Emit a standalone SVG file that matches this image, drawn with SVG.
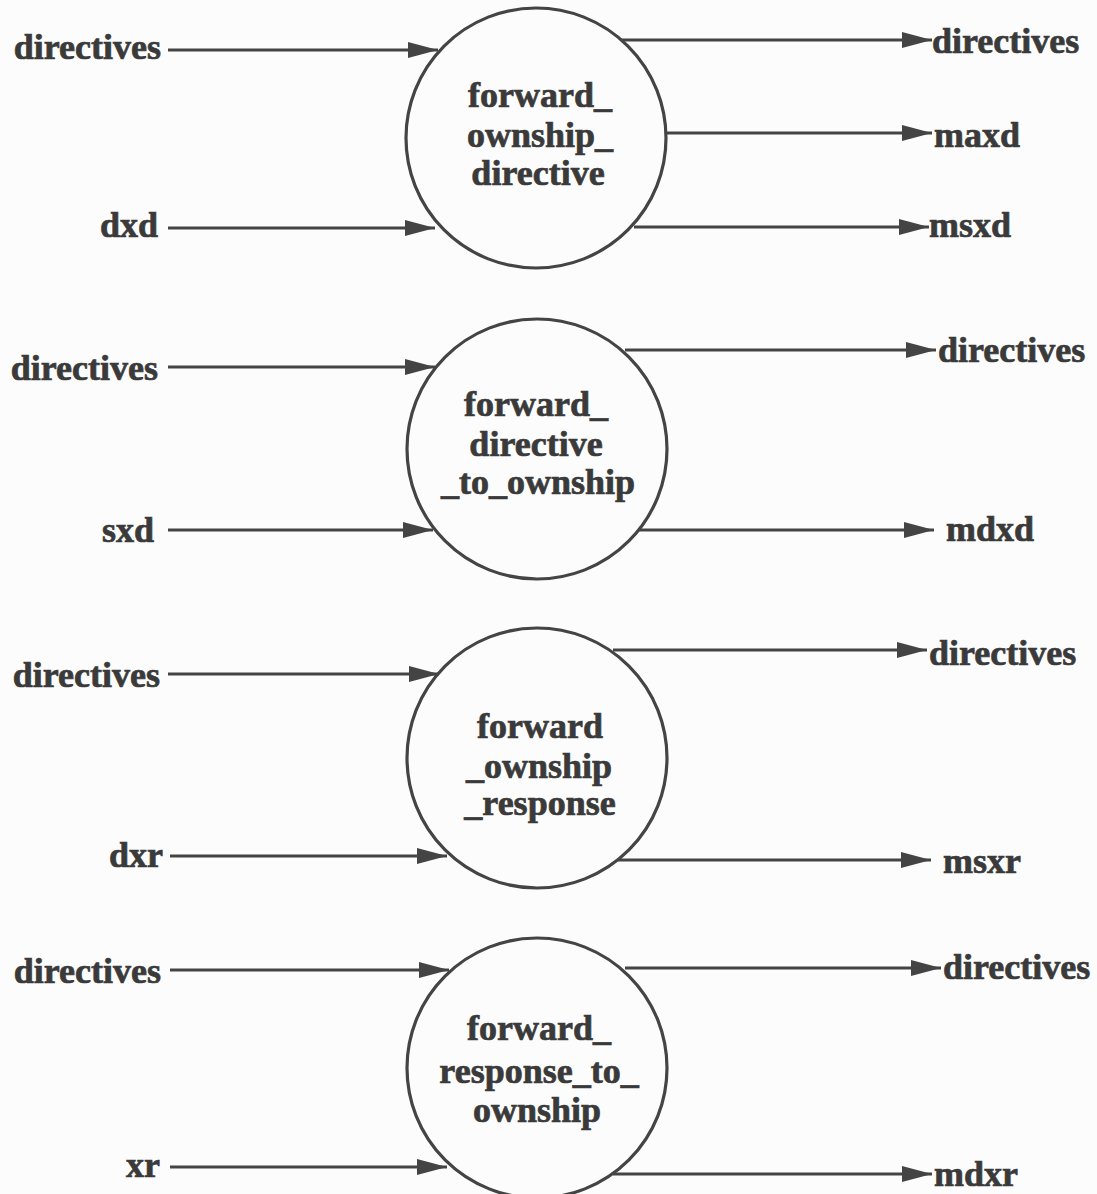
<svg xmlns="http://www.w3.org/2000/svg" width="1097" height="1194" viewBox="0 0 1097 1194">
<defs>
<marker id="ah" markerUnits="userSpaceOnUse" markerWidth="30" markerHeight="16" refX="30" refY="8" orient="auto" viewBox="0 0 30 16">
<path d="M0,0 L30,8 L0,16 z" fill="#444"/>
</marker>
<style>
.t{font-family:"Liberation Serif","Times New Roman",serif;font-weight:bold;font-size:36px;fill:#3a3a3a;stroke:#3a3a3a;stroke-width:0.7}
.in{text-anchor:end}
.c{text-anchor:middle}
.n{fill:none;stroke:#444;stroke-width:3.2}
.e{stroke:#444;stroke-width:3.2;fill:none;marker-end:url(#ah)}
</style>
</defs>
<rect width="1097" height="1194" fill="#fcfcfc"/>

<g id="node1">
<circle class="n" cx="536" cy="138" r="130"/>
<text class="t c" x="540" y="107">forward_</text>
<text class="t c" x="540" y="147">ownship_</text>
<text class="t c" x="538" y="185">directive</text>
</g>
<g id="node2">
<circle class="n" cx="537" cy="449" r="130"/>
<text class="t c" x="536" y="416">forward_</text>
<text class="t c" x="536" y="456">directive</text>
<text class="t c" x="538" y="494">_to_ownship</text>
</g>
<g id="node3">
<circle class="n" cx="537" cy="758" r="130"/>
<text class="t c" x="540" y="738">forward</text>
<text class="t c" x="539" y="778">_ownship</text>
<text class="t c" x="540" y="815">_response</text>
</g>
<g id="node4">
<circle class="n" cx="537" cy="1068" r="130"/>
<text class="t c" x="539" y="1040">forward_</text>
<text class="t c" x="539" y="1083">response_to_</text>
<text class="t c" x="537" y="1122">ownship</text>
</g>

<g id="labels">
<text class="t in" x="161" y="59">directives</text>
<text class="t in" x="158" y="237">dxd</text>
<text class="t" x="932" y="53">directives</text>
<text class="t" x="934" y="147">maxd</text>
<text class="t" x="929" y="237">msxd</text>

<text class="t in" x="158" y="380">directives</text>
<text class="t in" x="154" y="542">sxd</text>
<text class="t" x="938" y="362">directives</text>
<text class="t" x="946" y="541">mdxd</text>

<text class="t in" x="160" y="687">directives</text>
<text class="t in" x="163" y="867">dxr</text>
<text class="t" x="929" y="665">directives</text>
<text class="t" x="943" y="873">msxr</text>

<text class="t in" x="161" y="983">directives</text>
<text class="t in" x="160" y="1177">xr</text>
<text class="t" x="943" y="979">directives</text>
<text class="t" x="934" y="1186">mdxr</text>
</g>

<g id="connectors">
<line class="e" x1="168" y1="50" x2="438" y2="50"/>
<line class="e" x1="168" y1="228" x2="435" y2="228"/>
<line class="e" x1="621" y1="40" x2="932" y2="40"/>
<line class="e" x1="666" y1="133" x2="932" y2="133"/>
<line class="e" x1="634" y1="227" x2="929" y2="227"/>

<line class="e" x1="168" y1="367" x2="435" y2="367"/>
<line class="e" x1="168" y1="530" x2="433" y2="530"/>
<line class="e" x1="625" y1="350" x2="936" y2="350"/>
<line class="e" x1="639" y1="530" x2="934" y2="530"/>

<line class="e" x1="168" y1="674" x2="439" y2="674"/>
<line class="e" x1="170" y1="856" x2="447" y2="856"/>
<line class="e" x1="613" y1="650" x2="927" y2="650"/>
<line class="e" x1="618" y1="860" x2="931" y2="860"/>

<line class="e" x1="170" y1="970" x2="449" y2="970"/>
<line class="e" x1="170" y1="1167" x2="447" y2="1167"/>
<line class="e" x1="625" y1="968" x2="941" y2="968"/>
<line class="e" x1="613" y1="1174" x2="932" y2="1174"/>
</g>
</svg>
